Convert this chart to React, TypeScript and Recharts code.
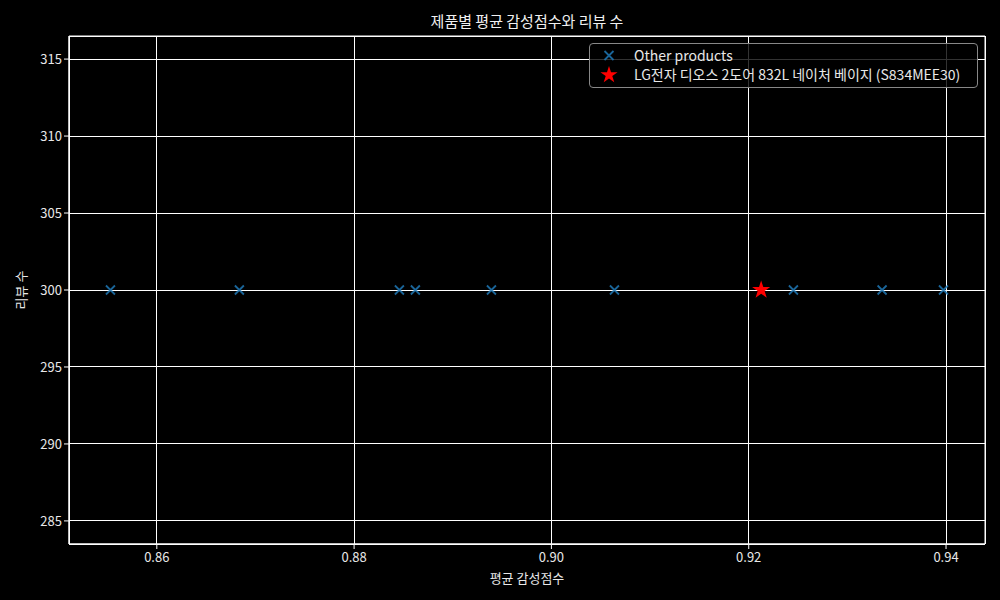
import React from "react";
import {
  ScatterChart,
  Scatter,
  XAxis,
  YAxis,
  CartesianGrid,
  ReferenceArea,
} from "recharts";

const otherScores = [0.8553, 0.86837, 0.88459, 0.88621, 0.89392, 0.90639, 0.92453, 0.93352, 0.93974];
const otherCounts = [300, 300, 300, 300, 300, 300, 300, 300, 300];
const targetScores = [0.92126];
const targetCounts = [300];
const xTicks = [0.86, 0.88, 0.9, 0.92, 0.94];
const yTicks = [285, 290, 295, 300, 305, 310, 315];
const xDomain: [number, number] = [0.8511, 0.94395];
const yDomain: [number, number] = [283.5, 316.5];

const TITLE = "제품별 평균 감성점수와 리뷰 수";
const X_LABEL = "평균 감성점수";
const Y_LABEL = "리뷰 수";
const OTHER_LABEL = "Other products";
const TARGET_LABEL = "LG전자 디오스 2도어 832L 네이처 베이지 (S834MEE30)";

const otherData = otherScores.map((x, i) => ({ x, y: otherCounts[i] }));
const targetData = targetScores.map((x, i) => ({ x, y: targetCounts[i] }));

const FONT = "'Noto Sans CJK KR', 'Noto Sans', sans-serif";
const BLUE = "#1f77b4";

const XMark = (props: any) => {
  const { cx, cy } = props;
  const r = 4.5;
  return (
    <path
      d={`M${cx - r},${cy - r}L${cx + r},${cy + r}M${cx - r},${cy + r}L${cx + r},${cy - r}`}
      stroke={BLUE}
      strokeOpacity={0.85}
      strokeWidth={1.8}
      fill="none"
    />
  );
};

const starPath = (cx: number, cy: number, R: number) => {
  const r = R * 0.382;
  let d = "";
  for (let i = 0; i < 10; i++) {
    const rad = i % 2 === 0 ? R : r;
    const a = -Math.PI / 2 + (i * Math.PI) / 5;
    d += (i === 0 ? "M" : "L") + (cx + rad * Math.cos(a)).toFixed(2) + "," + (cy + rad * Math.sin(a)).toFixed(2);
  }
  return d + "Z";
};

const StarMark = (props: any) => {
  const { cx, cy } = props;
  return <path d={starPath(cx, cy, 9.5)} fill="red" />;
};

const LegendBox = () => (
  <div
    style={{
      position: "absolute",
      top: 43,
      left: 589,
      width: 389,
      boxSizing: "border-box",
      border: "1px solid #888",
      borderRadius: 4,
      background: "rgba(0,0,0,0.8)",
      padding: "2px 6px 3px 10px",
      fontFamily: FONT,
      fontSize: 14,
      color: "#e8e8e8",
      lineHeight: "19px",
      whiteSpace: "nowrap",
    }}
  >
    <div style={{ display: "flex", alignItems: "center" }}>
      <svg width={24} height={19}>
        <path d="M4.5,5L13.5,14M4.5,14L13.5,5" stroke={BLUE} strokeWidth={1.8} strokeOpacity={0.85} />
      </svg>
      <span style={{ marginLeft: 10 }}>{OTHER_LABEL}</span>
    </div>
    <div style={{ display: "flex", alignItems: "center" }}>
      <svg width={24} height={19}>
        <path d={starPath(9, 10, 9)} fill="red" />
      </svg>
      <span style={{ marginLeft: 10 }}>{TARGET_LABEL}</span>
    </div>
  </div>
);

export default function App() {
  return (
    <div
      style={{
        position: "absolute",
        left: 0,
        top: 0,
        width: 1000,
        height: 600,
        background: "#000",
        fontFamily: FONT,
      }}
    >
      <div
        style={{
          position: "absolute",
          top: 10,
          left: 69,
          width: 916,
          textAlign: "center",
          color: "#f0f0f0",
          fontSize: 15,
        }}
      >
        {TITLE}
      </div>
      <ScatterChart
        width={1000}
        height={600}
        margin={{ top: 36, right: 15, bottom: 0, left: 9 }}
      >
        <CartesianGrid stroke="#ffffff" strokeWidth={1} horizontal vertical shapeRendering="crispEdges" />
        <XAxis
          type="number"
          dataKey="x"
          domain={xDomain}
          ticks={xTicks}
          allowDataOverflow
          tickFormatter={(v: number) => v.toFixed(2)}
          stroke="#ffffff"
          tick={{ fill: "#e8e8e8", fontSize: 13, fontFamily: FONT, dy: 2 }}
          tickSize={5}
          height={56}
          label={{ value: X_LABEL, position: "insideBottom", offset: 17, fill: "#e8e8e8", fontSize: 13, fontFamily: FONT }}
        />
        <YAxis
          type="number"
          dataKey="y"
          domain={yDomain}
          ticks={yTicks}
          allowDataOverflow
          stroke="#ffffff"
          width={60}
          tick={{ fill: "#e8e8e8", fontSize: 13, fontFamily: FONT }}
          tickSize={5}
          label={{ value: Y_LABEL, angle: -90, position: "insideLeft", offset: 12, fill: "#e8e8e8", fontSize: 13, fontFamily: FONT, style: { textAnchor: "middle" } }}
        />
        <ReferenceArea
          x1={xDomain[0]}
          x2={xDomain[1]}
          y1={yDomain[0]}
          y2={yDomain[1]}
          fill="none"
          stroke="#ffffff"
          strokeWidth={1}
          ifOverflow="visible"
        />
        <Scatter name={OTHER_LABEL} data={otherData} shape={<XMark />} isAnimationActive={false} />
        <Scatter name={TARGET_LABEL} data={targetData} shape={<StarMark />} isAnimationActive={false} />
      </ScatterChart>
      <LegendBox />
    </div>
  );
}
